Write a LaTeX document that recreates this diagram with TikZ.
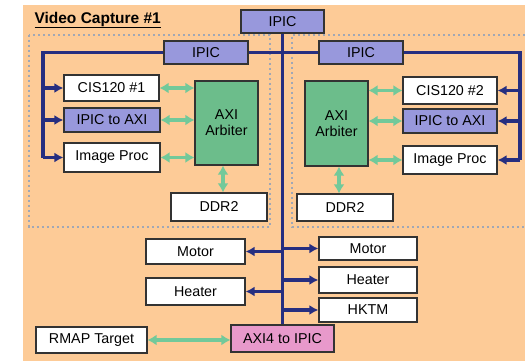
\documentclass[tikz,border=0pt]{standalone}
\usepackage{fontspec}
\setmainfont{Liberation Sans}
\usepackage{xcolor}
\usetikzlibrary{positioning, calc, arrows.meta}

\definecolor{peach}{HTML}{FDCB97}
\definecolor{lavender}{HTML}{9898DC}
\definecolor{arbgreen}{HTML}{6CBD8B}
\definecolor{pinkbox}{HTML}{E899CB}
\definecolor{busblue}{HTML}{262E80}
\definecolor{linkgreen}{HTML}{72C99A}
\definecolor{dotgray}{HTML}{A0A7B6}

\begin{document}
\begin{tikzpicture}[x=1pt, y=-1pt,
    box/.style={draw=black!80, line width=1.2pt, fill=white, inner sep=0pt,
        font=\fontsize{14.3}{16}\selectfont},
    ipicbox/.style={box, fill=lavender},
    arbbox/.style={box, fill=arbgreen, align=center},
    bus/.style={draw=busblue, line width=3.4pt},
    busarrow/.style={bus, -{Latex[length=9pt,width=10pt]}},
    link/.style={draw=linkgreen, line width=3.4pt, {Latex[length=9pt,width=11pt]}-{Latex[length=9pt,width=11pt]}},
    region/.style={draw=dotgray, line width=2.6pt, dash pattern=on 2.4pt off 2.6pt}]

    \useasboundingbox (0,0) rectangle (525,361);
    \fill[peach] (23,5) rectangle (525,361);

    \node[anchor=west, font=\fontsize{15.5}{18}\selectfont\bfseries] (title) at (31,20) {\underline{Video Capture \#1}};

    \draw[region] (29,35) rectangle (270,227);
    \draw[region] (525,35) -- (292,35) -- (292,227) -- (525,227);

    % top level
    \node[ipicbox, minimum width=83pt, minimum height=23pt] (ipictop) at (282.5,21.5) {IPIC};
    \node[ipicbox, minimum width=84pt, minimum height=23pt] (ipicL) at (206,52.5) {IPIC};
    \node[ipicbox, minimum width=84pt, minimum height=23pt] (ipicR) at (361,52.5) {IPIC};

    % left capture block
    \node[box, minimum width=95pt, minimum height=26pt] (cisL) at (111.5,88) {CIS120 \#1};
    \node[ipicbox, minimum width=96pt, minimum height=24pt] (toaxiL) at (112,120) {IPIC to AXI};
    \node[box, minimum width=96pt, minimum height=29pt] (procL) at (112,157.5) {Image Proc};
    \node[arbbox, minimum width=63pt, minimum height=84pt] (arbL) at (226.5,123) {AXI\\Arbiter};
    \node[box, minimum width=96pt, minimum height=28pt] (ddrL) at (219,207) {DDR2};

    % right capture block
    \node[box, minimum width=94pt, minimum height=27pt] (cisR) at (450,90.5) {CIS120 \#2};
    \node[ipicbox, minimum width=94pt, minimum height=24pt] (toaxiR) at (450,121) {IPIC to AXI};
    \node[box, minimum width=94pt, minimum height=28pt] (procR) at (450,160) {Image Proc};
    \node[arbbox, minimum width=63pt, minimum height=85pt] (arbR) at (336.5,123.5) {AXI\\Arbiter};
    \node[box, minimum width=96pt, minimum height=27pt] (ddrR) at (345,207.5) {DDR2};

    % housekeeping
    \node[box, minimum width=99pt, minimum height=25pt] (motorL) at (195.5,251.5) {Motor};
    \node[box, minimum width=99pt, minimum height=27pt] (heaterL) at (195.5,291.5) {Heater};
    \node[box, minimum width=98pt, minimum height=23pt] (motorR) at (368,248.5) {Motor};
    \node[box, minimum width=98pt, minimum height=26pt] (heaterR) at (368,280) {Heater};
    \node[box, minimum width=98pt, minimum height=24pt] (hktm) at (368,310) {HKTM};
    \node[box, fill=pinkbox, minimum width=103pt, minimum height=27pt] (axiipic) at (282.5,338.5) {AXI4 to IPIC};
    \node[box, minimum width=111pt, minimum height=26pt] (rmap) at (91.5,340) {RMAP Target};

    % buses
    \coordinate (busL) at (43,52.5);
    \coordinate (busR) at (520,52.5);
    \draw[bus] (ipictop.south) -- (axiipic.north);
    \draw[bus] (ipicL.east) -- (ipicR.west);
    \draw[bus] (ipicL.west) -- (busL) -- (busL |- procL.west);
    \draw[bus] (ipicR.east) -- (busR) -- (busR |- procR.east);
    \foreach \n in {cisL, toaxiL, procL}
        \draw[busarrow] (busL |- \n.west) -- (\n.west);
    \foreach \n in {cisR, toaxiR, procR}
        \draw[busarrow] (busR |- \n.east) -- (\n.east);
    \foreach \n in {motorL, heaterL}
        \draw[busarrow] (ipictop.south |- \n.east) -- (\n.east);
    \foreach \n in {motorR, heaterR, hktm}
        \draw[busarrow] (ipictop.south |- \n.west) -- (\n.west);

    % AXI links
    \foreach \n in {cisL, toaxiL, procL}
        \draw[link] (\n.east) -- (arbL.west |- \n.east);
    \foreach \n in {cisR, toaxiR, procR}
        \draw[link] (\n.west) -- (arbR.east |- \n.west);
    \draw[link] (arbL.south -| 223,0) -- (ddrL.north -| 223,0);
    \draw[link] (arbR.south -| 339,0) -- (ddrR.north -| 339,0);
    \draw[link] (rmap.east) -- (axiipic.west |- rmap.east);
\end{tikzpicture}
\end{document}
